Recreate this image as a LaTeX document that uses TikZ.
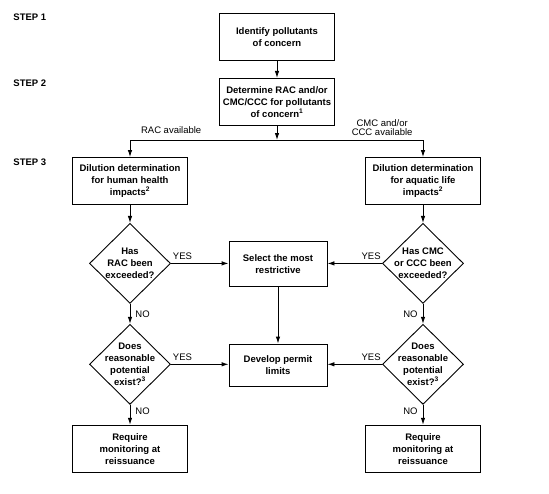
\documentclass[tikz,border=0pt]{standalone}
\usepackage{fontspec}
\setmainfont{Liberation Sans}
\usetikzlibrary{arrows.meta,positioning,shapes.geometric}
\def\boxwidth{115pt}
\def\midwidth{98pt}
\def\boxheight{47pt}
\def\decwidth{81pt}
\def\decheight{80pt}
\def\nodesep{20pt}
\def\boxfont{\fontsize{9.5}{12}\selectfont\bfseries}
\def\annotfont{\fontsize{9.5}{9}\selectfont}

\begin{document}
\begin{tikzpicture}[x=1pt,y=-1pt,line width=0.9pt,myarrow/.style={-{Latex[length=7pt,width=4.5pt]}}]
    \tikzstyle{stepbox}=[draw,font=\boxfont,align=center,minimum width=\boxwidth,minimum height=\boxheight,inner sep=2pt]
    \tikzstyle{midbox}=[stepbox,minimum width=\midwidth,minimum height=45pt]
    \tikzstyle{decision}=[diamond,draw,minimum width=\decwidth,minimum height=\decheight,inner sep=0pt]
    \tikzstyle{qtext}=[font=\boxfont,align=center,inner sep=0pt]
    \tikzstyle{annot}=[font=\annotfont,align=center,inner sep=1pt]
    \tikzstyle{steplabel}=[font=\boxfont,anchor=west,inner sep=1pt]

    \useasboundingbox (0,0) rectangle (549,493);

    % Step labels
    \foreach \name/\y in {1/17,2/83,3/162}
        \node[steplabel] (step-\name) at (12,\y) {STEP \name};

    % Draw the nodes
    \node[stepbox] (ident) at (277,37) {Identify pollutants\\of concern};
    \node[stepbox, below=17pt of ident] (det) {Determine RAC and/or\\CMC/CCC for pollutants\\of concern\textsuperscript{1}};

    \node[stepbox] (hh) at (130,181) {Dilution determination\\for human health\\impacts\textsuperscript{2}};
    \node[stepbox] (al) at (423,181) {Dilution determination\\for aquatic life\\impacts\textsuperscript{2}};

    \node[decision, below=18pt of hh, label={[qtext]center:Has\\RAC been\\exceeded?}] (rac) {};
    \node[decision, below=18pt of al, label={[qtext]center:Has CMC\\or CCC been\\exceeded?}] (cmc) {};

    \node[decision, below=\nodesep of rac, label={[qtext]center:Does\\reasonable\\potential\\exist?\textsuperscript{3}}] (rp-1) {};
    \node[decision, below=\nodesep of cmc, label={[qtext]center:Does\\reasonable\\potential\\exist?\textsuperscript{3}}] (rp-2) {};

    \node[stepbox, below=\nodesep of rp-1] (mon-1) {Require\\monitoring at\\reissuance};
    \node[stepbox, below=\nodesep of rp-2] (mon-2) {Require\\monitoring at\\reissuance};

    \node[midbox] (sel) at (278,264) {Select the most\\restrictive};
    \node[midbox, minimum height=42pt] (dev) at (278,365) {Develop permit\\limits};

    \coordinate (split) at (det.south |- 0,140);

    % Connect every node
    \draw[myarrow] (ident) -- (det);
    \draw[myarrow] (det) -- (split);
    \draw[myarrow] (split) -| node[annot, pos=0.36, above=5pt] {RAC available} (hh);
    \draw[myarrow] (split) -| node[annot, pos=0.36, above=3pt] {CMC and/or\\CCC available} (al);

    \draw[myarrow] (hh) -- (rac);
    \draw[myarrow] (al) -- (cmc);

    \draw[myarrow] (rac.east) -- node[annot, pos=0.2, above=2pt] {YES} (rac.east -| sel.west);
    \draw[myarrow] (cmc.west) -- node[annot, pos=0.2, above=2pt] {YES} (cmc.west -| sel.east);
    \draw[myarrow] (sel) -- (dev);

    \draw[myarrow] (rac) -- node[annot, right=4pt] {NO} (rp-1);
    \draw[myarrow] (cmc) -- node[annot, left=4pt] {NO} (rp-2);

    \draw[myarrow] (rp-1.east) -- node[annot, pos=0.2, above=2pt] {YES} (rp-1.east -| dev.west);
    \draw[myarrow] (rp-2.west) -- node[annot, pos=0.2, above=2pt] {YES} (rp-2.west -| dev.east);

    \draw[myarrow] (rp-1) -- node[annot, pos=0.3, right=4pt] {NO} (mon-1);
    \draw[myarrow] (rp-2) -- node[annot, pos=0.3, left=4pt] {NO} (mon-2);
\end{tikzpicture}
\end{document}
